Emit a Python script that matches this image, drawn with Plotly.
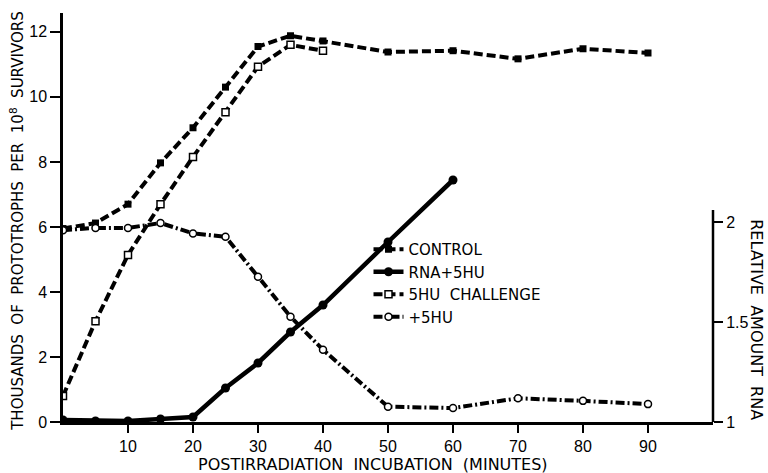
import plotly.graph_objects as go

minutes_control = [0, 5, 10, 15, 20, 25, 30, 35, 40, 50, 60, 70, 80, 90]
control = [5.95, 6.12, 6.7, 7.97, 9.05, 10.3, 11.55, 11.88, 11.72, 11.38, 11.42, 11.17, 11.48, 11.35]

minutes_challenge = [0, 5, 10, 15, 20, 25, 30, 35, 40]
challenge = [0.8, 3.1, 5.14, 6.7, 8.15, 9.53, 10.93, 11.6, 11.42]

minutes_hu = [0, 5, 10, 15, 20, 25, 30, 35, 40, 50, 60, 70, 80, 90]
plus_5hu = [5.9, 5.97, 5.97, 6.12, 5.8, 5.7, 4.47, 3.24, 2.22, 0.47, 0.43, 0.73, 0.65, 0.55]

minutes_rna = [0, 5, 10, 15, 20, 25, 30, 35, 40, 50, 60]
rna_5hu = [1.01, 1.005, 1.005, 1.015, 1.025, 1.17, 1.295, 1.45, 1.585, 1.90, 2.21]

x_ticks = [10, 20, 30, 40, 50, 60, 70, 80, 90]
y_ticks = [0, 2, 4, 6, 8, 10, 12]
y2_ticks = [1, 1.5, 2]
y2_ticklabels = ["1", "1.5", "2"]

FONT = "DejaVu Sans, Arial, sans-serif"
TICKFONT = "Liberation Sans, Arial, sans-serif"

fig = go.Figure()

fig.add_trace(go.Scatter(
    x=minutes_control, y=control, name="CONTROL", mode="lines+markers",
    line=dict(color="black", width=4, dash="9px,4px"),
    marker=dict(symbol="square", size=7, color="black"),
))
fig.add_trace(go.Scatter(
    x=minutes_rna, y=rna_5hu, name="RNA+5HU", mode="lines+markers", yaxis="y2",
    line=dict(color="black", width=4.5),
    marker=dict(symbol="circle", size=9, color="black"),
))
fig.add_trace(go.Scatter(
    x=minutes_challenge, y=challenge, name="5HU  CHALLENGE", mode="lines+markers",
    line=dict(color="black", width=4, dash="9px,4px"),
    marker=dict(symbol="square", size=7, color="white", line=dict(color="black", width=1.5)),
))
fig.add_trace(go.Scatter(
    x=minutes_hu, y=plus_5hu, name="+5HU", mode="lines+markers",
    line=dict(color="black", width=4, dash="9px,3px,2px,3px"),
    marker=dict(symbol="circle", size=7, color="white", line=dict(color="black", width=1.5)),
))

fig.update_layout(
    width=768, height=473,
    margin=dict(l=63, r=55, t=13, b=51),
    paper_bgcolor="white", plot_bgcolor="white",
    font=dict(family=FONT, size=14, color="black"),
    showlegend=True,
    legend=dict(x=0.47, y=0.462, xanchor="left", yanchor="top",
                bgcolor="rgba(0,0,0,0)", font=dict(size=15, family=FONT),
                tracegroupgap=0, itemwidth=30),
    xaxis=dict(range=[0, 100], showgrid=False, zeroline=False,
               showline=True, linecolor="black", linewidth=2.5,
               ticks="outside", ticklen=8, tickwidth=2, tickcolor="black",
               tickvals=x_ticks, ticktext=[str(v) for v in x_ticks],
               tickfont=dict(size=16, family=TICKFONT)),
    yaxis=dict(range=[0, 12.58], showgrid=False, zeroline=False,
               showline=True, linecolor="black", linewidth=2.5,
               ticks="outside", ticklen=10, tickwidth=2, tickcolor="black",
               tickvals=y_ticks, ticktext=[str(v) for v in y_ticks],
               tickfont=dict(size=16, family=TICKFONT)),
    yaxis2=dict(overlaying="y", side="right", range=[1, 3.045],
                showgrid=False, zeroline=False, showline=False,
                ticks="outside", ticklen=9, tickwidth=2, tickcolor="black",
                tickvals=y2_ticks, ticktext=y2_ticklabels,
                tickfont=dict(size=16, family=TICKFONT)),
)

# right axis spine (only the drawn part)
fig.add_shape(type="line", xref="paper", yref="y2", x0=1, x1=1, y0=1, y1=2.06,
              line=dict(color="black", width=2.5))

fig.add_annotation(text="THOUSANDS  OF  PROTOTROPHS  PER  10<sup>8</sup>  SURVIVORS",
                   xref="paper", yref="paper", x=-0.072, y=0.49,
                   xanchor="center", yanchor="middle", textangle=-90,
                   showarrow=False, font=dict(size=15, family=FONT))
fig.add_annotation(text="RELATIVE  AMOUNT  RNA",
                   xref="paper", yref="paper", x=1.067, y=0.25,
                   xanchor="center", yanchor="middle", textangle=90,
                   showarrow=False, font=dict(size=16, family=FONT))
fig.add_annotation(text="POSTIRRADIATION  INCUBATION  (MINUTES)",
                   xref="paper", yref="paper", x=0.477, y=-0.105,
                   xanchor="center", yanchor="middle",
                   showarrow=False, font=dict(size=16, family=FONT))

fig.write_html("out.html")
